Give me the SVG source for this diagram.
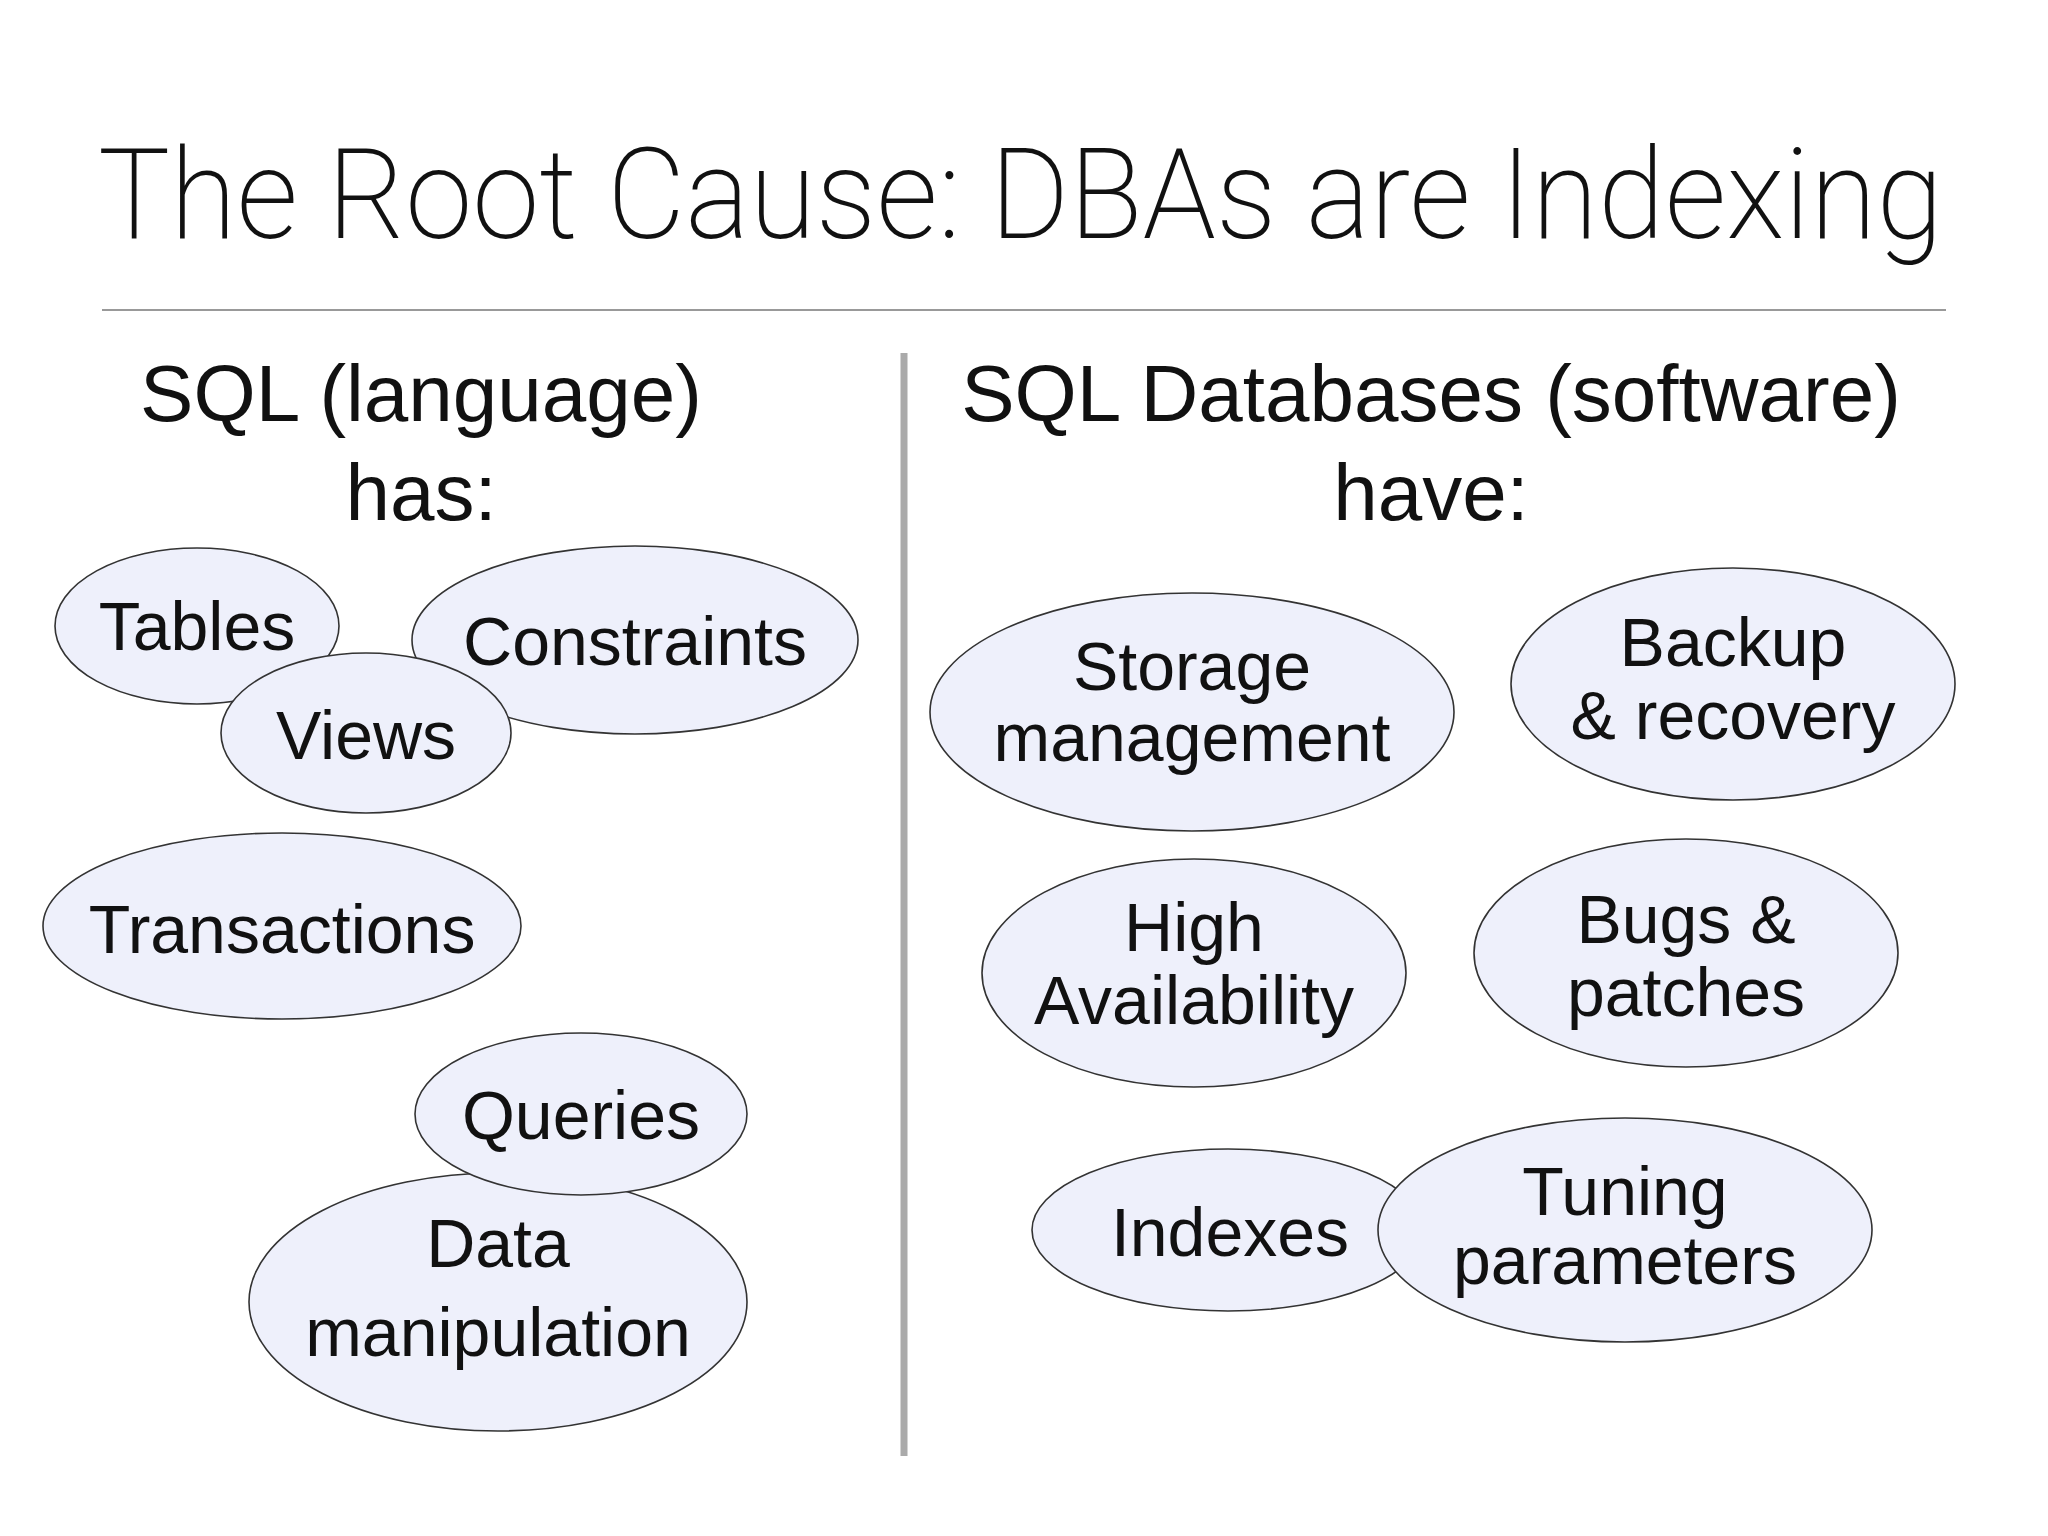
<svg xmlns="http://www.w3.org/2000/svg" width="2048" height="1536" viewBox="0 0 2048 1536">
<style>
.t{font-family:"Liberation Sans",Arial,sans-serif;font-size:68px;fill:#111;text-anchor:middle}
.h{font-family:"Liberation Sans",Arial,sans-serif;font-size:80px;fill:#111;text-anchor:middle}
ellipse{fill:#eef0fb;stroke:#333;stroke-width:1.6}
</style>
<rect width="2048" height="1536" fill="#fff"/>
<text x="98" y="238" font-family="Roboto,'Liberation Sans',sans-serif" font-weight="200" font-size="127" fill="#111" textLength="1845" lengthAdjust="spacingAndGlyphs">The Root Cause: DBAs are Indexing</text>
<line x1="102" y1="310" x2="1946" y2="310" stroke="#999" stroke-width="2"/>
<line x1="904" y1="353" x2="904" y2="1456" stroke="#aaa" stroke-width="7"/>
<text class="h" x="421" y="421">SQL (language)</text>
<text class="h" x="421" y="520">has:</text>
<text class="h" x="1431" y="421">SQL Databases (software)</text>
<text class="h" x="1431" y="520">have:</text>
<g id="tables"><ellipse cx="197" cy="626" rx="142" ry="78"/><text class="t" x="197" y="650">Tables</text></g>
<g id="constraints"><ellipse cx="635" cy="640" rx="223" ry="94"/><text class="t" x="635" y="665">Constraints</text></g>
<g id="views"><ellipse cx="366" cy="733" rx="145" ry="80"/><text class="t" x="366" y="759">Views</text></g>
<g id="transactions"><ellipse cx="282" cy="926" rx="239" ry="93"/><text class="t" x="282" y="953">Transactions</text></g>
<g id="data"><ellipse cx="498" cy="1302" rx="249" ry="129"/><text class="t" x="498" y="1267">Data</text><text class="t" x="498" y="1356">manipulation</text></g>
<g id="queries"><ellipse cx="581" cy="1114" rx="166" ry="81"/><text class="t" x="581" y="1139">Queries</text></g>
<g id="storage"><ellipse cx="1192" cy="712" rx="262" ry="119"/><text class="t" x="1192" y="690">Storage</text><text class="t" x="1192" y="761">management</text></g>
<g id="backup"><ellipse cx="1733" cy="684" rx="222" ry="116"/><text class="t" x="1733" y="666">Backup</text><text class="t" x="1733" y="739">&amp; recovery</text></g>
<g id="ha"><ellipse cx="1194" cy="973" rx="212" ry="114"/><text class="t" x="1194" y="951">High</text><text class="t" x="1194" y="1024">Availability</text></g>
<g id="bugs"><ellipse cx="1686" cy="953" rx="212" ry="114"/><text class="t" x="1686" y="943">Bugs &amp;</text><text class="t" x="1686" y="1016">patches</text></g>
<g id="indexes"><ellipse cx="1228" cy="1230" rx="196" ry="81"/><text class="t" x="1230" y="1256">Indexes</text></g>
<g id="tuning"><ellipse cx="1625" cy="1230" rx="247" ry="112"/><text class="t" x="1625" y="1215">Tuning</text><text class="t" x="1625" y="1284">parameters</text></g>
<g id="connectors"/>
</svg>
